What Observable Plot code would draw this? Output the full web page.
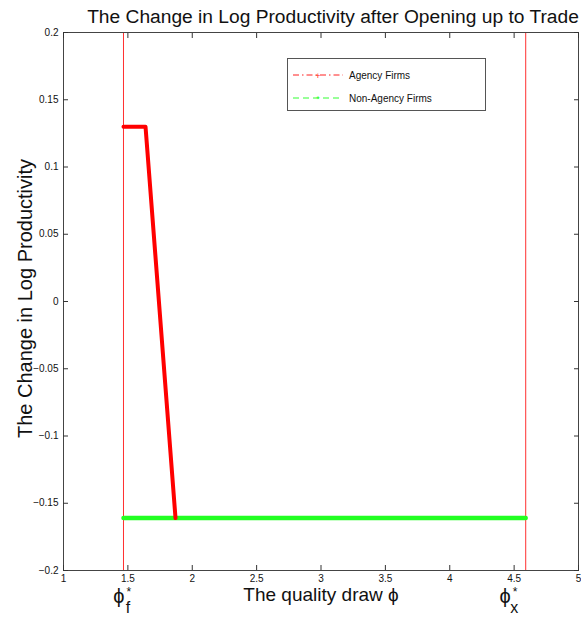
<!DOCTYPE html>
<html><head><meta charset="utf-8">
<script src="https://cdn.jsdelivr.net/npm/d3@7"></script>
<script src="https://cdn.jsdelivr.net/npm/@observablehq/plot@0.6"></script>
<style>
body{margin:0;background:#fff;font-family:"Liberation Sans",Arial,sans-serif;}
#wrap{position:relative;width:581px;height:619px;}
#legend{position:absolute;left:287px;top:58px;width:197px;height:51px;border:1px solid #555;background:#fff;font-size:10px;color:#111;}
#legend .row{position:absolute;left:0;height:14px;display:flex;align-items:center;}
#legend svg{margin-left:5px;margin-right:6px;}
</style></head>
<body><div id="wrap"></div>
<script>
const title = "The Change in Log Productivity after Opening up to Trade";
const xLabel = "The quality draw ϕ";
const yLabel = "The Change in Log Productivity";
const xTicks = [1, 1.5, 2, 2.5, 3, 3.5, 4, 4.5, 5];
const yTicks = [-0.2, -0.15, -0.1, -0.05, 0, 0.05, 0.1, 0.15, 0.2];
const agencyX = [1.466, 1.637, 1.870];
const agencyY = [0.130, 0.130, -0.161];
const nonAgencyX = [1.466, 4.59];
const nonAgencyY = [-0.161, -0.161];
const cutoffs = [1.466, 4.59];
const cutoffLabelAt = [1.5, 4.5];
const cutoffNames = ["f", "x"];
const seriesNames = ["Agency Firms", "Non-Agency Firms"];

const agency = agencyX.map((x, i) => ({x, y: agencyY[i]}));
const nonAgency = nonAgencyX.map((x, i) => ({x, y: nonAgencyY[i]}));
const fmt = d => String(d).replace("-", "−");
const font = "Liberation Sans, Arial, sans-serif";

const chart = Plot.plot({
  width: 581, height: 619,
  marginLeft: 63, marginRight: 3, marginTop: 32, marginBottom: 49,
  style: {fontFamily: font, background: "#fff", color: "#111"},
  x: {domain: [1, 5]},
  y: {domain: [-0.2, 0.2]},
  marks: [
    Plot.ruleX(cutoffs, {stroke: "#ff3030", strokeWidth: 1}),
    Plot.line(nonAgency, {x: "x", y: "y", stroke: "#22ff22", strokeWidth: 4.5}),
    Plot.line(agency, {x: "x", y: "y", stroke: "#ff0000", strokeWidth: 4}),
    Plot.frame({stroke: "#444"}),
    Plot.axisX({anchor: "bottom", ticks: xTicks, tickSize: 5, dy: -5, text: null, stroke: "#333", label: null}),
    Plot.axisX({anchor: "top", ticks: xTicks, tickSize: 5, dy: 5, text: null, stroke: "#333", label: null}),
    Plot.axisY({anchor: "left", ticks: yTicks, tickSize: 5, dx: 5, text: null, stroke: "#333", label: null}),
    Plot.axisY({anchor: "right", ticks: yTicks, tickSize: 5, dx: -5, text: null, stroke: "#333", label: null}),
    Plot.axisX({anchor: "bottom", ticks: xTicks, tickSize: 0, tickPadding: 4, tickFormat: fmt, fontSize: 10, label: null}),
    Plot.axisY({anchor: "left", ticks: yTicks, tickSize: 0, tickPadding: 5, tickFormat: fmt, fontSize: 10, label: null}),
    Plot.text([title], {frameAnchor: "top", dy: -23, dx: 12, fontSize: 19.2, fill: "#111"}),
    Plot.text([xLabel], {frameAnchor: "bottom", dy: 30, dx: 0, fontSize: 19, fill: "#111"}),
    Plot.text([yLabel], {frameAnchor: "left", textAnchor: "middle", dx: -38, dy: -3, rotate: -90, fontSize: 20, fill: "#111"}),
    Plot.text(cutoffLabelAt, {x: d => d, frameAnchor: "bottom", dy: 32, dx: -9, text: () => "ϕ", fontSize: 20, fill: "#111"}),
    Plot.text(cutoffLabelAt, {x: d => d, frameAnchor: "bottom", dy: 25, dx: 1, text: () => "*", fontSize: 12, fill: "#111"}),
    Plot.text(cutoffLabelAt, {x: d => d, frameAnchor: "bottom", dy: 42, dx: 0, text: (d, i) => cutoffNames[i], fontSize: 16, fill: "#111"})
  ]
});
const wrap = document.getElementById("wrap");
wrap.appendChild(chart);

const legend = document.createElement("div");
legend.id = "legend";
const styles = [
  {color: "#ff2020", dash: "6,3,1.5,3", marker: "+"},
  {color: "#33ff33", dash: "6,4", marker: "*"}
];
seriesNames.forEach((name, i) => {
  const row = document.createElement("div");
  row.className = "row";
  row.style.top = (i === 0 ? 9 : 32) + "px";
  const s = styles[i];
  row.innerHTML = `<svg width="50" height="10"><line x1="0" x2="50" y1="5" y2="5" stroke="${s.color}" stroke-width="1" stroke-dasharray="${s.dash}"/><text x="25" y="8.5" text-anchor="middle" font-size="9" fill="${s.color}">${s.marker}</text></svg><span>${name}</span>`;
  legend.appendChild(row);
});
wrap.appendChild(legend);
</script></body></html>
